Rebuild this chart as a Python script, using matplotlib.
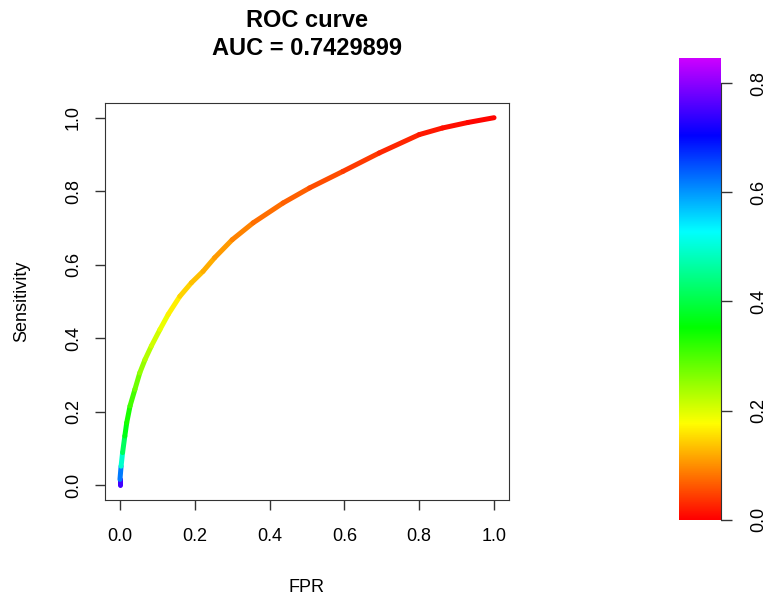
import numpy as np
import matplotlib
matplotlib.use("Agg")
import matplotlib.pyplot as plt
from matplotlib.collections import LineCollection
from matplotlib.colors import ListedColormap, Normalize, hsv_to_rgb

plt.rcParams['font.family'] = ['Liberation Sans', 'DejaVu Sans']

# ROC points, with the cutoff that colours each point
fpr = [0.0, 0.0, 0.003, 0.007, 0.013, 0.018, 0.027, 0.040, 0.053, 0.067, 0.084,
       0.107, 0.129, 0.160, 0.191, 0.222, 0.253, 0.300, 0.356, 0.436, 0.507,
       0.596, 0.693, 0.800, 0.862, 0.930, 1.0]
tpr = [0.0, 0.016, 0.052, 0.089, 0.134, 0.170, 0.216, 0.261, 0.306, 0.342, 0.379,
       0.424, 0.465, 0.514, 0.551, 0.582, 0.619, 0.668, 0.714, 0.768, 0.809,
       0.854, 0.904, 0.954, 0.972, 0.987, 1.0]
cutoff = [0.80, 0.70, 0.54, 0.45, 0.38, 0.35, 0.32, 0.29, 0.26, 0.24, 0.22,
          0.20, 0.18, 0.155, 0.14, 0.125, 0.115, 0.10, 0.085, 0.072, 0.062,
          0.048, 0.036, 0.022, 0.014, 0.007, 0.0]
auc = 0.7429899
cut_max = 0.846
ticks = [0.0, 0.2, 0.4, 0.6, 0.8]
tick_labels = ["0.0", "0.2", "0.4", "0.6", "0.8"]

# rainbow palette red -> purple like R's colorize
hues = np.linspace(0, 0.8, 256)
cmap = ListedColormap(hsv_to_rgb(np.column_stack([hues, np.ones(256), np.ones(256)])))
norm = Normalize(0, cut_max)

fig = plt.figure(figsize=(7.7, 5.97), dpi=100)
ax = fig.add_axes([105/770, 1 - 500/597, 404/770, 397/597])

pts = np.column_stack([fpr, tpr])
segs = np.stack([pts[:-1], pts[1:]], axis=1)
seg_cut = (np.array(cutoff[:-1]) + np.array(cutoff[1:])) / 2
lc = LineCollection(segs, cmap=cmap, norm=norm, linewidths=3.6, capstyle='round')
lc.set_array(seg_cut)
ax.add_collection(lc)

ax.set_xlim(-0.04, 1.04)
ax.set_ylim(-0.04, 1.04)
ax.set_xticks(ticks + [1.0])
ax.set_yticks(ticks + [1.0])
ax.set_xticklabels(tick_labels + ["1.0"])
ax.set_yticklabels(tick_labels + ["1.0"], rotation=90, va='center')
for s in ax.spines.values():
    s.set_color('#333333')
ax.tick_params(axis='x', length=7.5, width=1, color='#333333', labelsize=13, pad=13)
ax.tick_params(axis='y', length=7.5, width=1, color='#333333', labelsize=13, pad=9)
ax.set_xlabel("FPR", fontsize=13, labelpad=24)
ax.set_ylabel("Sensitivity", fontsize=13, labelpad=25)

cx = (105 + 509) / 2 / 770
fig.text(cx, 1 - 27/597, "ROC curve", ha='center', va='baseline', fontsize=17, fontweight='bold')
fig.text(cx, 1 - 55/597, "AUC = %s" % auc, ha='center', va='baseline', fontsize=17, fontweight='bold')

# colour key
cax = fig.add_axes([679/770, 1 - 522/597, 42/770, 464/597])
grad = np.linspace(0, cut_max, 256).reshape(-1, 1)
cax.imshow(grad, extent=[0, 1, 0, cut_max], origin='lower', aspect='auto', cmap=cmap, norm=norm)
cax.set_xlim(0, 1)
cax.set_ylim(-0.004, cut_max)
for k in ['left', 'top', 'bottom']:
    cax.spines[k].set_visible(False)
cax.spines['right'].set_bounds(0, 0.8)
cax.spines['right'].set_color('#333333')
cax.set_xticks([])
cax.yaxis.tick_right()
cax.set_yticks(ticks)
cax.set_yticklabels(tick_labels, rotation=90, va='center')
cax.tick_params(axis='y', length=8, width=1, color='#333333', labelsize=13, pad=13)

fig.savefig("out.png", dpi=100)
